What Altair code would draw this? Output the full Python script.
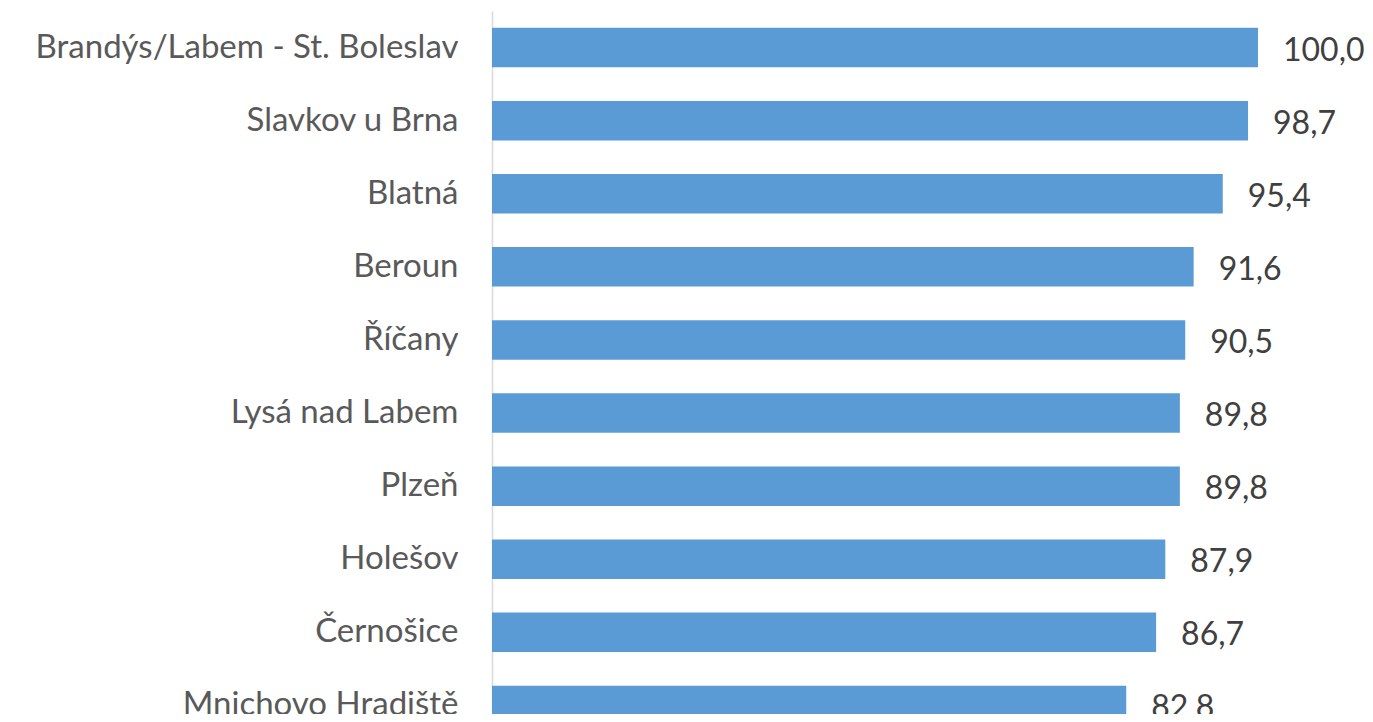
import altair as alt
import pandas as pd

cities = [
    "Brandýs/Labem - St. Boleslav",
    "Slavkov u Brna",
    "Blatná",
    "Beroun",
    "Říčany",
    "Lysá nad Labem",
    "Plzeň",
    "Holešov",
    "Černošice",
    "Mnichovo Hradiště",
]
values = [100.0, 98.7, 95.4, 91.6, 90.5, 89.8, 89.8, 87.9, 86.7, 82.8]
value_labels = [f"{v:.1f}".replace(".", ",") for v in values]

df = pd.DataFrame({"city": cities, "value": values, "label": value_labels})

FONT = "Lato"

y_enc = alt.Y(
    "city:N",
    sort=cities,
    title=None,
    scale=alt.Scale(range=[0, 731], paddingInner=0.46, paddingOuter=0.23),
    axis=alt.Axis(
        domainColor="#d9d9d9",
        domainWidth=1.5,
        ticks=False,
        labelFont=FONT,
        labelFontSize=33,
        labelColor="#595959",
        labelPadding=34,
        labelLimit=600,
    ),
)
x_enc = alt.X("value:Q", scale=alt.Scale(domain=[0, 100]), axis=None)

bars = alt.Chart(df).mark_bar(color="#5B9BD5").encode(x=x_enc, y=y_enc)
texts = alt.Chart(df).mark_text(
    align="left", baseline="middle", dx=25, dy=3, font=FONT, fontSize=32, color="#404040"
).encode(x=x_enc, y=alt.Y("city:N", sort=cities), text="label:N")

chart = (
    alt.layer(bars, texts)
    .properties(
        width=766,
        height=703,
        autosize=alt.AutoSizeParams(type="none"),
        padding={"left": 484, "top": 3, "right": 107, "bottom": 0},
    )
    .configure_view(stroke=None)
)

chart.save("out.html", embed_options={"renderer": "svg", "actions": False})
